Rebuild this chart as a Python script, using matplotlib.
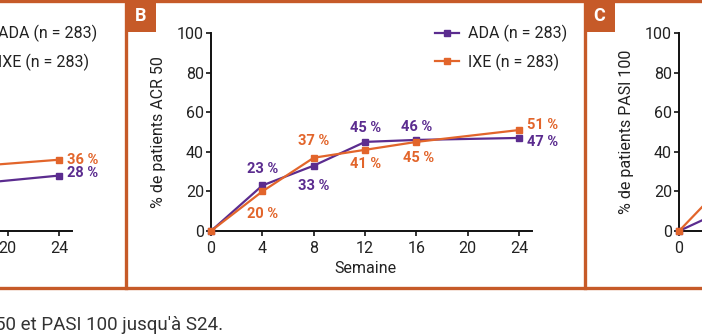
import matplotlib.pyplot as plt
from matplotlib.lines import Line2D
from matplotlib.patches import Rectangle

# Data
weeks_a = [16, 24]
ada_a = [23, 28]
ixe_a = [32, 36]

weeks_b = [0, 4, 8, 12, 16, 24]
ada_b = [0, 23, 33, 45, 46, 47]
ixe_b = [0, 20, 37, 41, 45, 51]

weeks_c = [0, 4]
ada_c = [0, 12]
ixe_c = [0, 27]

yticks = [0, 20, 40, 60, 80, 100]
xticks = [0, 4, 8, 12, 16, 20, 24]

PURPLE = '#5B2C8F'
ORANGE = '#E2652B'
FRAME = '#C65A28'
TXT = '#222222'

plt.rcParams['font.family'] = ['Roboto', 'DejaVu Sans']

W, H = 702, 336
fig = plt.figure(figsize=(W / 100, H / 100), dpi=100)
fig.patch.set_facecolor('white')


def px_axes(left_px):
    # axes box in figure pixels (top-left origin of the reference)
    return fig.add_axes([left_px / W, (H - 231) / H, 321 / W, 198 / H])


def style_axes(ax, xt, yt):
    ax.set_xlim(0, 25)
    ax.set_ylim(0, 100)
    ax.set_facecolor('none')
    for s in ['top', 'right']:
        ax.spines[s].set_visible(False)
    for s in ['left', 'bottom']:
        ax.spines[s].set_linewidth(1.4)
        ax.spines[s].set_color('#111111')
    ax.set_xticks(xt)
    ax.set_yticks(yt)
    ax.tick_params(axis='both', length=3.5, width=1.2, color='#111111',
                   labelsize=11.5, labelcolor=TXT)
    ax.tick_params(axis='x', pad=4)
    ax.tick_params(axis='y', pad=1.5)


def draw_series(ax, weeks, ada, ixe):
    ax.plot(weeks, ada, color=PURPLE, lw=1.6, marker='s', ms=5,
            clip_on=False, label='ADA (n = 283)', zorder=3)
    ax.plot(weeks, ixe, color=ORANGE, lw=1.6, marker='s', ms=5,
            clip_on=False, label='IXE (n = 283)', zorder=3)


def put_labels(ax, weeks, vals, offsets, color):
    for w, v, (dx, dy) in zip(weeks, vals, offsets):
        ax.annotate(f'{v} %', (w, v), xytext=(dx, dy), textcoords='offset points',
                    ha='center', va='center', fontsize=10.5, fontweight='bold',
                    color=color, annotation_clip=False)


def add_legend(ax, x_px):
    ax.legend(loc='upper left', bbox_to_anchor=(x_px / W, (H - 25) / H),
              bbox_transform=fig.transFigure, frameon=False, fontsize=11.5,
              handlelength=1.5, handletextpad=0.55, labelspacing=0.7,
              borderaxespad=0, borderpad=0, labelcolor=TXT)


# Panel A (only its right part is visible)
ax_a = px_axes(-249)
style_axes(ax_a, xticks[-2:], yticks)
ax_a.tick_params(axis='y', labelleft=False)
draw_series(ax_a, weeks_a, ada_a, ixe_a)
put_labels(ax_a, weeks_a[-1:], ada_a[-1:], [(17, 1.5)], PURPLE)
put_labels(ax_a, weeks_a[-1:], ixe_a[-1:], [(17, -0.5)], ORANGE)
add_legend(ax_a, -35)

# Panel B
ax_b = px_axes(211)
style_axes(ax_b, xticks, yticks)
draw_series(ax_b, weeks_b, ada_b, ixe_b)
ada_off = [(0, 0), (0, 11.5), (0, -14.5), (0, 10), (0, 9.5), (17, -3)]
ixe_off = [(0, 0), (0, -16.5), (0, 12), (0, -10), (1.5, -11.5), (17, 3.5)]
put_labels(ax_b, weeks_b[1:], ada_b[1:], ada_off[1:], PURPLE)
put_labels(ax_b, weeks_b[1:], ixe_b[1:], ixe_off[1:], ORANGE)
ax_b.set_ylabel('% de patients ACR 50', fontsize=11.5, color=TXT)
ax_b.yaxis.set_label_coords(-45 / 321, 0.5)
ax_b.set_xlabel('Semaine', fontsize=11.5, color=TXT)
ax_b.xaxis.set_label_coords(12 / 25, -30 / 198)
add_legend(ax_b, 435)

# Panel C (only its left edge is visible)
ax_c = px_axes(679)
style_axes(ax_c, xticks[:1], yticks)
draw_series(ax_c, weeks_c, ada_c, ixe_c)
ax_c.set_ylabel('% de patients PASI 100', fontsize=11.5, color=TXT)
ax_c.yaxis.set_label_coords(-45 / 321, 0.5)


# Orange frame around panels and letter boxes
def fig_line(x0, y0, x1, y1):
    fig.add_artist(Line2D([x0 / W, x1 / W], [1 - y0 / H, 1 - y1 / H],
                          color=FRAME, lw=2.4, transform=fig.transFigure))


fig_line(0, 1, W, 1)
fig_line(0, 287.5, W, 287.5)
fig_line(126.5, 0, 126.5, 287.5)
fig_line(584.5, 0, 584.5, 287.5)

for x0, letter in [(125, 'B'), (584, 'C')]:
    fig.add_artist(Rectangle((x0 / W, 1 - 32 / H), 31 / W, 32 / H,
                             transform=fig.transFigure, color=FRAME, lw=0))
    fig.text((x0 + 15.5) / W, 1 - 16 / H, letter, color='white', fontsize=13,
             fontweight='bold', ha='center', va='center')

fig.text(-5 / W, 1 - 325 / H, "50 et PASI 100 jusqu'à S24.", fontsize=13.5,
         color='#333333', ha='left', va='center')

fig.savefig('out.png', dpi=100, facecolor='white')
